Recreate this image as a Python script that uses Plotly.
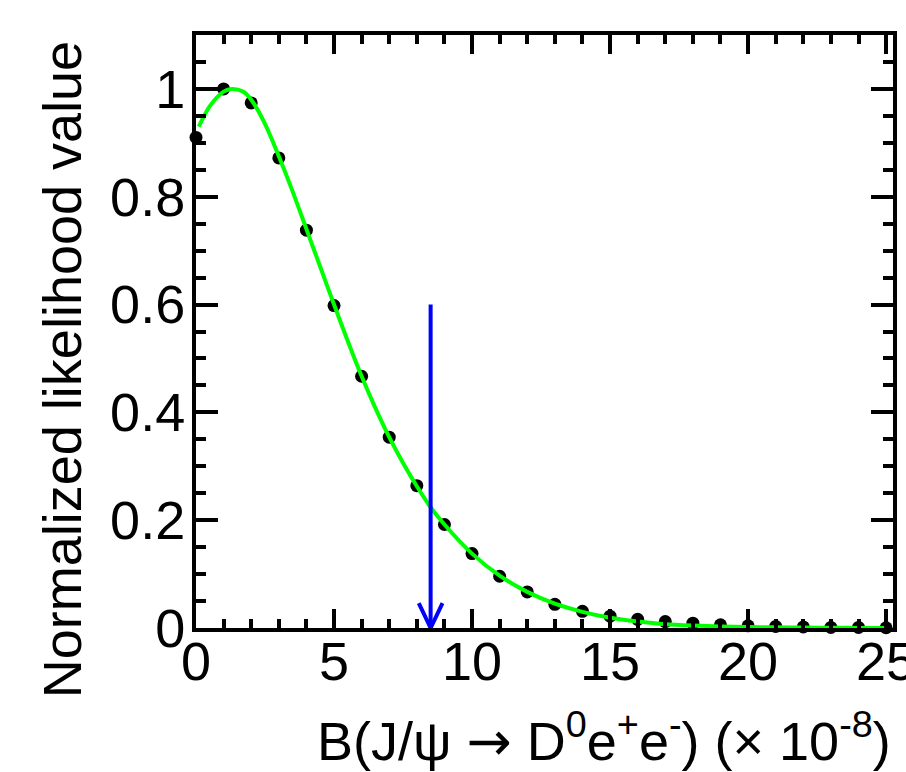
import plotly.graph_objects as go

# Data points (black dots)
pts_x = list(range(0, 26))
pts_y = [0.910, 1.000, 0.974, 0.872, 0.738, 0.598, 0.467, 0.354, 0.264, 0.192,
         0.138, 0.096, 0.067, 0.044, 0.031, 0.022, 0.016, 0.012, 0.009, 0.006,
         0.004, 0.003, 0.002, 0.001, 0.001, 0.0005]

# Fitted curve (green)
fit_x = [0.1, 0.5, 1.0, 1.3, 1.7, 2.0, 2.5, 3.0, 3.5, 4.0, 4.5, 5.0, 5.5, 6.0, 6.5,
         7.0, 7.5, 8.0, 8.5, 9.0, 10, 11, 12, 13, 14, 15, 16, 17, 18, 19, 20,
         21, 22, 23, 24, 25]
fit_y = [0.930, 0.968, 0.995, 1.000, 0.995, 0.980, 0.935, 0.875, 0.810, 0.740,
         0.670, 0.600, 0.532, 0.467, 0.408, 0.354, 0.306, 0.263, 0.224, 0.192,
         0.138, 0.097, 0.067, 0.045, 0.030, 0.019, 0.012, 0.007, 0.0045, 0.003,
         0.002, 0.0012, 0.0007, 0.0004, 0.0002, 0.0001]

# Upper limit arrow
arrow_x = 8.5
arrow_top = 0.6
head_dx = 0.43
head_dy = 0.046

FONT = "Liberation Sans, Arial, sans-serif"

fig = go.Figure()
fig.add_trace(go.Scatter(x=pts_x, y=pts_y, mode="markers",
                         marker=dict(color="black", size=13),
                         cliponaxis=False, showlegend=False))
fig.add_trace(go.Scatter(x=fit_x, y=fit_y, mode="lines",
                         line=dict(color="#00ff00", width=4, shape="spline", smoothing=0.8),
                         showlegend=False))
fig.add_trace(go.Scatter(x=[arrow_x, arrow_x], y=[arrow_top, 0], mode="lines",
                         line=dict(color="#0000ff", width=4), showlegend=False,
                         cliponaxis=False))
fig.add_trace(go.Scatter(x=[arrow_x - head_dx, arrow_x, arrow_x + head_dx],
                         y=[head_dy, 0, head_dy], mode="lines",
                         line=dict(color="#0000ff", width=4), showlegend=False,
                         cliponaxis=False))

axis_common = dict(
    showline=True, linecolor="black", linewidth=4, mirror="ticks",
    ticks="inside", tickcolor="black", tickwidth=3.5,
    showgrid=False, zeroline=False, ticklabeloverflow="allow", automargin=False,
    tickfont=dict(family=FONT, size=54, color="black"),
)

fig.update_xaxes(range=[0, 25.25], tick0=0, dtick=5, ticklen=19, ticklabelstandoff=-17,
                 minor=dict(dtick=1, ticklen=9, tickwidth=3.5, ticks="inside", tickcolor="black"),
                 **axis_common)
fig.update_yaxes(range=[0, 1.1], tick0=0, dtick=0.2, ticklen=22, ticklabelstandoff=-4,
                 minor=dict(dtick=0.05, ticklen=10, tickwidth=3.5, ticks="inside", tickcolor="black"),
                 **axis_common)

fig.add_annotation(text="B(J/ψ <span style='font-family:DejaVu Sans'>→</span> D<sup>0</sup>e<sup>+</sup>e<sup>-</sup>) (× 10<sup>-8</sup>)",
                   xref="paper", yref="paper", x=1.0, y=-0.185,
                   xanchor="right", yanchor="middle", showarrow=False,
                   font=dict(family=FONT, size=54, color="black"))
fig.add_annotation(text="Normalized likelihood value",
                   xref="paper", yref="paper", x=-0.192, y=0.435,
                   xanchor="center", yanchor="middle", textangle=-90, showarrow=False,
                   font=dict(family=FONT, size=54, color="black"))

fig.update_layout(width=906, height=772, margin=dict(l=196, r=13, t=35, b=144),
                  plot_bgcolor="white", paper_bgcolor="white")

fig.write_html("out.html")
